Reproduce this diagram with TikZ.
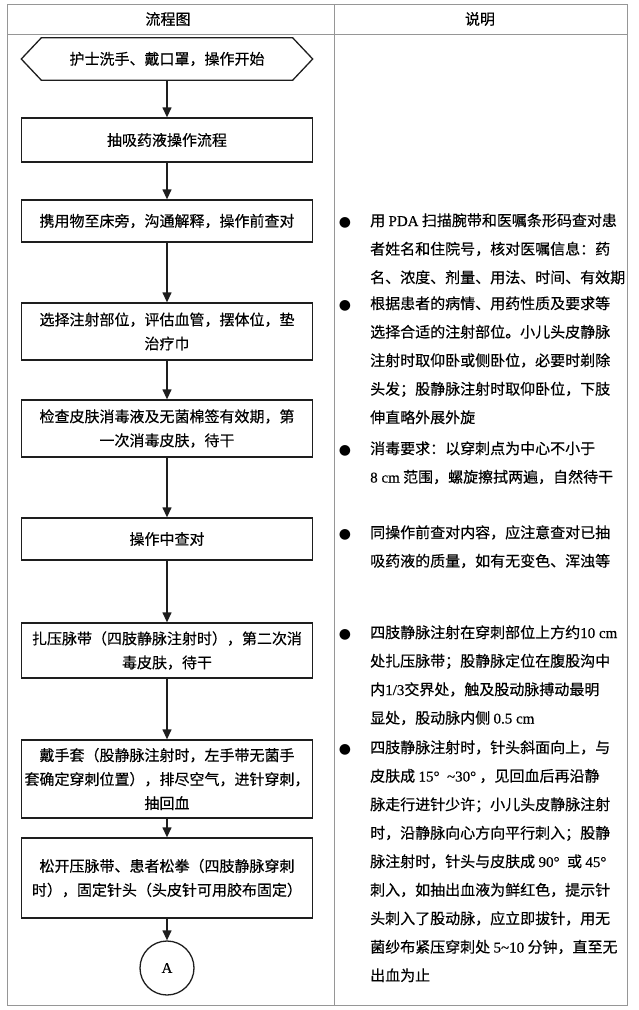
\documentclass[tikz,border=0pt]{standalone}
\usepackage{fontspec}
\setmainfont{Noto Sans CJK SC}[FakeBold=0.4]
\newfontfamily\latin{Liberation Serif}[FakeBold=0.4]
\newfontfamily\symb{DejaVu Sans}
\usetikzlibrary{arrows.meta}
\definecolor{tablegray}{RGB}{150,150,150}
\definecolor{boxline}{RGB}{30,30,30}
\newcommand{\lt}[1]{{\latin #1}}

\begin{document}
\begin{tikzpicture}[x=1pt, y=-1pt,
    every node/.style={font=\fontsize{15}{24}\selectfont, inner sep=0pt},
    stepbox/.style={draw=boxline, line width=1.3pt, minimum width=291pt, align=center},
    note/.style={anchor=base west, align=left, font=\fontsize{15}{28.5}\selectfont},
    dot/.style={anchor=base, font=\symb\fontsize{14}{14}\selectfont},
    flow/.style={draw=boxline, line width=1.3pt, -{Triangle[length=10pt,width=9pt]}},
    grid/.style={draw=tablegray, line width=0.9pt}]
    \useasboundingbox (0,0) rectangle (639,1010);

    % table
    \draw[grid] (7,4) rectangle (627,1005);
    \draw[grid] (7,34) -- (627,34);
    \draw[grid] (334,4) -- (334,1005);
    \node (hflow) at (168,19) {流程图};
    \node (hnote) at (480,19) {说明};

    % flow chart
    \node[minimum width=251pt, minimum height=42pt] (start) at (167,59) {护士洗手、戴口罩，操作开始};
    \draw[draw=boxline, line width=1.3pt] ([xshift=-20pt]start.west) -- (start.north west) -- (start.north east)
        -- ([xshift=20pt]start.east) -- (start.south east) -- (start.south west) -- cycle;
    \node[stepbox, minimum height=44pt] (draw) at (167,140) {抽吸药液操作流程};
    \node[stepbox, minimum height=42pt] (precheck) at (167,221) {携用物至床旁，沟通解释，操作前查对};
    \node[stepbox, minimum height=57pt] (site) at (167,331.5) {选择注射部位，评估血管，摆体位，垫\\治疗巾};
    \node[stepbox, minimum height=57pt] (disinf) at (167,428.5) {检查皮肤消毒液及无菌棉签有效期，第\\一次消毒皮肤，待干};
    \node[stepbox, minimum height=42pt] (midcheck) at (167,539) {操作中查对};
    \node[stepbox, minimum height=55pt] (band) at (167,650.5) {扎压脉带（四肢静脉注射时），第二次消\\毒皮肤，待干};
    \node[stepbox, minimum height=78pt] (puncture) at (167,779) {戴手套（股静脉注射时，左手带无菌手\\套确定穿刺位置），排尽空气，进针穿刺，\\抽回血};
    \node[stepbox, minimum height=80pt] (fix) at (167,878) {松开压脉带、患者松拳（四肢静脉穿刺\\时），固定针头（头皮针可用胶布固定）};
    \node[circle, draw=boxline, line width=1.3pt, minimum size=54pt] (conA) at (167,968) {\lt{A}};

    \draw[flow] (start.south) -- (draw.north);
    \draw[flow] (draw.south) -- (precheck.north);
    \draw[flow] (precheck.south) -- (site.north);
    \draw[flow] (site.south) -- (disinf.north);
    \draw[flow] (disinf.south) -- (midcheck.north);
    \draw[flow] (midcheck.south) -- (band.north);
    \draw[flow] (band.south) -- (puncture.north);
    \draw[flow] (puncture.south) -- (fix.north);
    \draw[flow] (fix.south) -- (conA.north);

    % notes (placed by the baseline of their last line)
    \node[dot] (d1) at (345,226) {●};
    \node[note] (n1) at (370,283) {用 \lt{PDA} 扫描腕带和医嘱条形码查对患\\者姓名和住院号，核对医嘱信息：药\\名、浓度、剂量、用法、时间、有效期};
    \node[dot] (d2) at (345,309) {●};
    \node[note] (n2) at (370,423) {根据患者的病情、用药性质及要求等\\选择合适的注射部位。小儿头皮静脉\\注射时取仰卧或侧卧位，必要时剃除\\头发；股静脉注射时取仰卧位，下肢\\伸直略外展外旋};
    \node[dot] (d3) at (345,454) {●};
    \node[note] (n3) at (370,482.5) {消毒要求：以穿刺点为中心不小于\\\lt{8 cm} 范围，螺旋擦拭两遍，自然待干};
    \node[dot] (d4) at (345,538) {●};
    \node[note] (n4) at (370,566.5) {同操作前查对内容，应注意查对已抽\\吸药液的质量，如有无变色、浑浊等};
    \node[dot] (d5) at (345,638) {●};
    \node[note] (n5) at (370,723.5) {四肢静脉注射在穿刺部位上方约\lt{10 cm}\\处扎压脉带；股静脉定位在腹股沟中\\内\lt{1/3}交界处，触及股动脉搏动最明\\显处，股动脉内侧 \lt{0.5 cm}};
    \node[dot] (d6) at (345,753) {●};
    \node[note] (n6) at (370,981) {四肢静脉注射时，针头斜面向上，与\\皮肤成 \lt{15°~~\textasciitilde30°}~，见回血后再沿静\\脉走行进针少许；小儿头皮静脉注射\\时，沿静脉向心方向平行刺入；股静\\脉注射时，针头与皮肤成 \lt{90°~~}或 \lt{45°}\\刺入，如抽出血液为鲜红色，提示针\\头刺入了股动脉，应立即拔针，用无\\菌纱布紧压穿刺处 \lt{5\textasciitilde10} 分钟，直至无\\出血为止};
\end{tikzpicture}
\end{document}
